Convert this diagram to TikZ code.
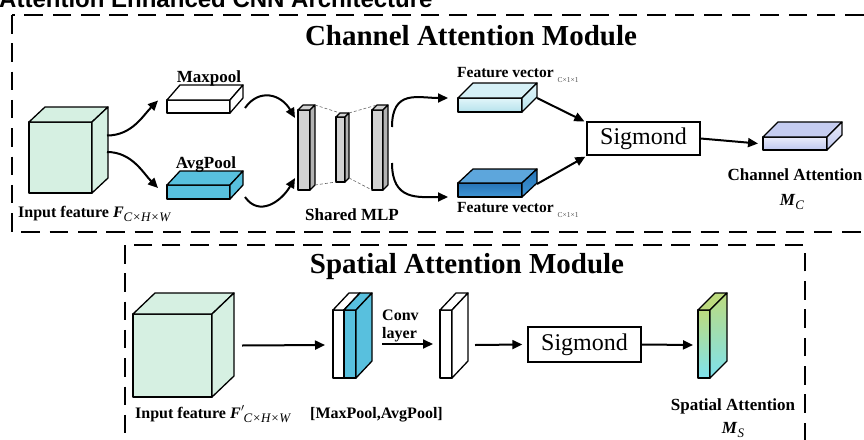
\documentclass[tikz,border=0pt]{standalone}
\usepackage{fontspec}
\setmainfont{Liberation Serif}
\newfontfamily\headsans{Liberation Sans}
\usetikzlibrary{calc,arrows.meta}

\definecolor{mint}{RGB}{214,240,226}
\definecolor{avgblue}{RGB}{88,192,222}
\definecolor{mlpgray}{RGB}{210,210,210}
\definecolor{fvlighttop}{RGB}{226,246,250}
\definecolor{fvlightbot}{RGB}{182,226,236}
\definecolor{fvdarktop}{RGB}{38,116,182}
\definecolor{fvdarkbot}{RGB}{64,150,214}
\definecolor{lavtop}{RGB}{234,236,250}
\definecolor{lavbot}{RGB}{190,198,238}
\definecolor{sagreen}{RGB}{188,218,126}
\definecolor{sacyan}{RGB}{126,226,238}

% a box seen from the front: front face as a named node, top and right faces added
\newcommand\prism[6]{%
  \node[boxface, #1front, minimum width=#4pt, minimum height=#5pt] (#2) at #3 {};
  \path[boxface, #1top] (#2.north west) -- ++#6 -- ($(#2.north east)+#6$) -- (#2.north east) -- cycle;
  \path[boxface, #1side] (#2.north east) -- ++#6 -- ($(#2.south east)+#6$) -- (#2.south east) -- cycle;
}
\newcommand\subtxt[1]{\raisebox{-0.28em}{\fontsize{13}{13}\selectfont\mdseries\itshape #1}}
\newcommand\tinysub[1]{\raisebox{-0.35em}{\fontsize{7.5}{8}\selectfont\mdseries\color{black!70}#1}}

\begin{document}
\begin{tikzpicture}[x=1pt, y=-1pt,
  boxface/.style={draw=black, line width=1.3pt, line join=round, inner sep=0pt, outer sep=0pt},
  cubefront/.style={fill=mint}, cubetop/.style={fill=mint}, cubeside/.style={fill=mint},
  plainfront/.style={fill=white}, plaintop/.style={fill=white}, plainside/.style={fill=white},
  avgfront/.style={fill=avgblue}, avgtop/.style={fill=avgblue}, avgside/.style={fill=avgblue},
  mlpfront/.style={fill=mlpgray, line width=1.1pt}, mlptop/.style={fill=mlpgray, line width=1.1pt}, mlpside/.style={fill=mlpgray!85!black, line width=1.1pt},
  fvlfront/.style={top color=fvlighttop, bottom color=fvlightbot}, fvltop/.style={fill=fvlighttop!70!fvlightbot}, fvlside/.style={top color=fvlighttop, bottom color=fvlightbot},
  fvdfront/.style={top color=fvdarktop, bottom color=fvdarkbot}, fvdtop/.style={fill=fvdarkbot!85!white}, fvdside/.style={top color=fvdarktop, bottom color=fvdarkbot},
  cattfront/.style={top color=lavtop, bottom color=lavbot}, catttop/.style={fill=lavbot!90!white}, cattside/.style={top color=lavtop, bottom color=lavbot},
  sattfront/.style={top color=sagreen, bottom color=sacyan}, satttop/.style={fill=sagreen}, sattside/.style={top color=sagreen, bottom color=sacyan},
  modbox/.style={line width=2.5pt, dash pattern=on 18.5pt off 9.8pt},
  arr/.style={line width=2pt, -{Triangle[length=10pt,width=9pt]}},
  mlpdash/.style={densely dashed, line width=0.6pt, black!60},
  lbl/.style={font=\fontsize{17}{20}\selectfont\bfseries, inner sep=0pt},
  sublbl/.style={font=\fontsize{16}{19}\selectfont\bfseries, inner sep=0pt},
  fvlbl/.style={font=\fontsize{15.5}{18}\selectfont\bfseries, inner sep=0pt},
  ttl/.style={font=\fontsize{29}{32}\selectfont\bfseries, inner sep=0pt},
  sigbox/.style={draw=black, line width=1.3pt, inner sep=0pt, font=\fontsize{24}{26}\selectfont}]

\useasboundingbox (0,0) rectangle (864,439);
\clip (0,0) rectangle (864,439);

% heading, cut by the top edge
\node[anchor=base west, inner sep=0pt, font=\headsans\bfseries\fontsize{24}{28}\selectfont] (head) at (-1,7) {Attention Enhanced CNN Architecture};

% ---------------- channel attention module ----------------
\draw[modbox] (12,15) rectangle (900,232);
\node[ttl, anchor=base] (cttl) at (471,45) {Channel Attention Module};

\prism{cube}{cubeA}{(60.5,157.5)}{63}{71}{(16,-15)}
\prism{plain}{maxp}{(198.5,106.5)}{63}{13}{(13,-15)}
\prism{avg}{avgp}{(198.5,192)}{63}{14}{(13,-14)}
\prism{mlp}{barA}{(304,150)}{12}{80}{(5,-5)}
\prism{mlp}{barB}{(340.5,149.5)}{9}{65}{(4,-4)}
\prism{mlp}{barC}{(377.5,150)}{11}{80}{(5,-5)}
\prism{fvl}{fvA}{(490,105)}{64}{14}{(15,-15)}
\prism{fvd}{fvB}{(490,190)}{64}{14}{(15,-14)}
\prism{catt}{cattn}{(795,143.5)}{64}{13}{(15,-15)}
\node[sigbox, minimum width=113pt, minimum height=33pt] (sigA) at (643.5,138.5) {Sigmond};

% links inside the shared MLP
\draw[mlpdash] ($(barA.north east)+(5,-5)$) -- ($(barB.north west)+(4,-4)$);
\draw[mlpdash] ($(barB.north east)+(4,-4)$) -- ($(barC.north west)+(5,-5)$);
\draw[mlpdash] ($(barA.south east)+(5,-5)$) -- (barB.south west);
\draw[mlpdash] ($(barB.south east)+(4,-4)$) -- (barC.south west);

% flow of the channel branch
\draw[arr] ($(cubeA.east)+(15,-22)$) .. controls +(25,0) and +(-15,15) .. ($(maxp.west)+(-9,-6)$);
\draw[arr] ($(cubeA.east)+(15,-5.5)$) .. controls +(25,0) and +(-15,-15) .. ($(avgp.west)+(-9,-4)$);
\draw[arr] ($(maxp.east)+(15,1.5)$) .. controls +(14,-20) and +(-14,-24) .. ($(barA.north west)+(-3,8)$);
\draw[arr] ($(avgp.east)+(15,5)$) .. controls +(14,20) and +(-14,24) .. ($(barA.south west)+(-3,-12)$);
\draw[arr] ($(barC.north east)+(9,17)$) .. controls +(0,-38) and +(-30,0) .. ($(fvA.west)+(-10,-7)$);
\draw[arr] ($(barC.south east)+(9,-27)$) .. controls +(0,38) and +(-30,0) .. ($(fvB.west)+(-10,7)$);
\draw[arr] ($(fvA.east)+(15,-7)$) -- ($(sigA.north west)+(-2,0)$);
\draw[arr] ($(fvB.east)+(15,-6)$) -- ($(sigA.south west)+(-1,1)$);
\draw[arr] (sigA.east) -- ($(cattn.west)+(-5,0)$);

% channel labels
\node[lbl, anchor=base] (lmax) at (209,82) {Maxpool};
\node[lbl, anchor=base] (lavg) at (206,168) {AvgPool};
\node[sublbl, anchor=base west] (lin) at (18,217) {Input feature \textit{F}\subtxt{C×H×W}};
\node[lbl, anchor=base] (lmlp) at (352,220) {Shared MLP};
\node[fvlbl, anchor=base west] (lfvA) at (457,77) {Feature vector \tinysub{C×1×1}};
\node[fvlbl, anchor=base west] (lfvB) at (457,212) {Feature vector \tinysub{C×1×1}};
\node[lbl, anchor=base] (lcatt) at (795,180) {Channel Attention};
\node[lbl, anchor=base] (lmc) at (792,205) {\textit{M}\subtxt{C}};

% ---------------- spatial attention module ----------------
\draw[modbox] (125,245) rectangle (805,470);
\node[ttl, anchor=base] (sttl) at (467,273) {Spatial Attention Module};

\prism{cube}{cubeB}{(172.5,355.5)}{79}{83}{(22,-21)}
\prism{plain}{poolW}{(338.5,344)}{11}{68}{(16,-17)}
\prism{avg}{poolB}{(350,344)}{12}{68}{(16,-17)}
\prism{plain}{convB}{(446,344)}{12}{68}{(16,-17)}
\node[sigbox, minimum width=113pt, minimum height=35pt] (sigB) at (584.5,344.5) {Sigmond};
\prism{satt}{sattn}{(704,344)}{12}{68}{(17,-17)}

\draw[arr] ($(cubeB.east)+(30,-10)$) -- ($(poolW.west)+(-8,1)$);
\draw[arr] ($(poolB.east)+(26,0)$) -- ($(convB.west)+(-7,0)$);
\draw[arr] ($(convB.east)+(23,1)$) -- ($(sigB.west)+(-5,0)$);
\draw[arr] (sigB.east) -- ($(sattn.west)+(-5,1)$);

% spatial labels
\node[sublbl, anchor=base west] (lconv) at (382,320) {Conv};
\node[sublbl, anchor=base west] (llay) at (382,338) {layer};
\node[sublbl, anchor=base west] (linB) at (135,418) {Input feature \textit{F}\kern0.5pt$'$\kern-1pt\subtxt{C×H×W}};
\node[sublbl, anchor=base west] (lpool) at (310,418) {[MaxPool,AvgPool]};
\node[lbl, anchor=base] (lsatt) at (733,410) {Spatial Attention};
\node[lbl, anchor=base] (lms) at (733,433) {\textit{M}\subtxt{S}};
\end{tikzpicture}
\end{document}
